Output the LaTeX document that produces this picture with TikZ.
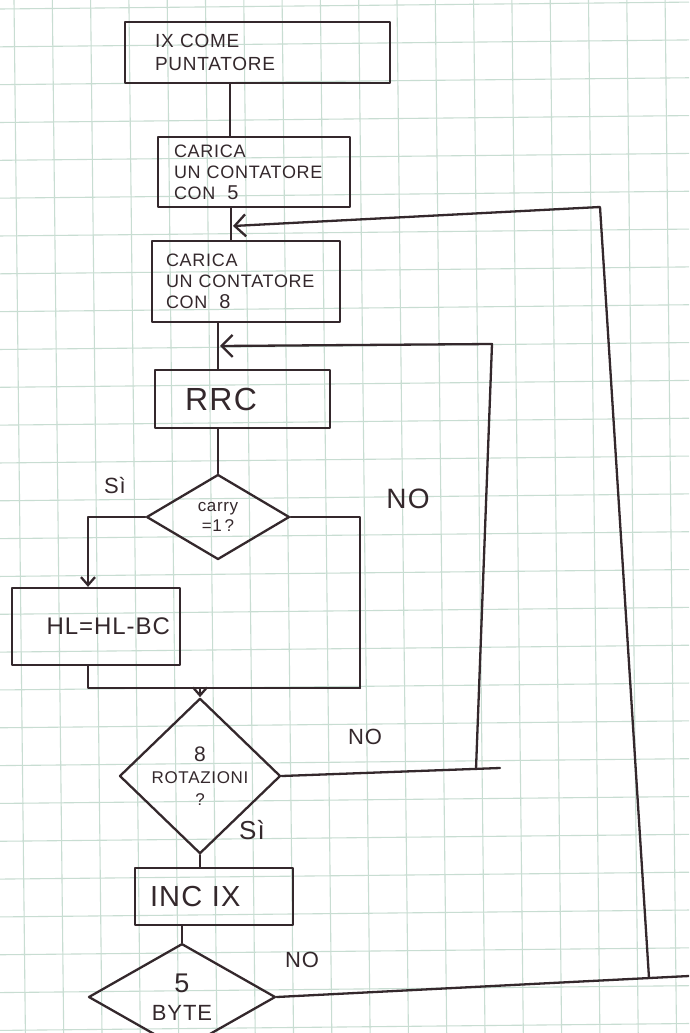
\documentclass[tikz,border=0pt]{standalone}
\usepackage{fontspec}
\setmainfont{Liberation Sans}
\newfontfamily\hand[LetterSpace=4]{Liberation Sans}
\usetikzlibrary{shapes.geometric,arrows.meta}
\definecolor{ink}{RGB}{52,40,44}
\definecolor{gridc}{RGB}{200,221,210}
\begin{document}
\begin{tikzpicture}[x=1pt,y=-1pt,
  inkline/.style={draw=ink,line width=2.3pt,line cap=round,line join=round},
  proc/.style={inkline,rectangle,inner ysep=0pt,text=ink},
  dec/.style={inkline,diamond,inner sep=0pt,text=ink,align=center},
  tag/.style={text=ink,inner sep=0pt},
  flow/.style={inkline},
  tip/.style={-{Straight Barb[length=11pt,width=22pt,line width=2.3pt]}},
  tipdown/.style={-{Straight Barb[length=8pt,width=14pt,line width=2.3pt]}}
]
\useasboundingbox (0,0) rectangle (689,1033);
\clip (0,0) rectangle (689,1033);
\fill[white] (0,0) rectangle (689,1033);
% squared paper
\foreach \k in {0,...,17} \draw[gridc,line width=1.1pt] ({14+38.3*\k},0) -- ({14+38.3*\k+11.4},1033);
\foreach \j in {0,...,27} \draw[gridc,line width=1.1pt] (0,{9+37.83*\j}) -- (689,{9+37.83*\j-6.9});

% process boxes
\node[proc,minimum width=265pt,minimum height=61pt,inner xsep=30pt,text width=205pt,align=left,
  font=\hand\fontsize{19}{23}\selectfont] (b1) at (257.5,52.5) {IX COME\\PUNTATORE};
\node[proc,minimum width=192pt,minimum height=70pt,inner xsep=16pt,text width=160pt,align=left,
  font=\hand\fontsize{18}{21}\selectfont] (b2) at (254,172) {CARICA\\UN CONTATORE\\CON \ {\fontsize{20}{21}\selectfont 5}};
\node[proc,minimum width=188pt,minimum height=81pt,inner xsep=14pt,text width=160pt,align=left,
  font=\hand\fontsize{18}{21}\selectfont] (b3) at (246,281.5) {CARICA\\UN CONTATORE\\CON \ {\fontsize{20}{21}\selectfont 8}};
\node[proc,minimum width=175pt,minimum height=58pt,inner xsep=30pt,text width=115pt,align=left,
  font=\hand\fontsize{32}{34}\selectfont] (rrc) at (242.5,399) {RRC};
\node[proc,minimum width=168pt,minimum height=77pt,inner xsep=10pt,text width=148pt,align=right,
  font=\hand\fontsize{24}{26}\selectfont] (hl) at (96,626.5) {HL=HL-BC};
\node[proc,minimum width=158pt,minimum height=57pt,inner xsep=15pt,text width=128pt,align=left,
  font=\hand\fontsize{29}{30}\selectfont] (inc) at (214,896.5) {INC IX};

% decisions
\node[dec,minimum width=143pt,minimum height=85pt,font=\hand\fontsize{17}{20}\selectfont] (d1) at (218,517) {carry\\=1\,?};
\node[dec,minimum width=161pt,minimum height=106pt,font=\hand\fontsize{17}{22}\selectfont] (d2) at (200,776) {{\fontsize{21}{22}\selectfont 8}\\ROTAZIONI\\?};
\node[dec,minimum width=187pt,minimum height=84pt,font=\hand\fontsize{22}{28}\selectfont] (d3) at (182,997) {{\fontsize{27}{28}\selectfont 5}\\BYTE};

% branch labels
\node[tag,font=\hand\fontsize{22}{22}\selectfont] (si1) at (115,486) {Sì};
\node[tag,font=\hand\fontsize{28}{28}\selectfont] (no1) at (408,499) {NO};
\node[tag,font=\hand\fontsize{22}{22}\selectfont] (no2) at (365,737) {NO};
\node[tag,font=\hand\fontsize{26}{26}\selectfont] (si2) at (252,830) {Sì};
\node[tag,font=\hand\fontsize{22}{22}\selectfont] (no3) at (302,960) {NO};

% helper coordinates
\coordinate (x1) at (230,0);
\coordinate (x2) at (231,0);
\coordinate (x3) at (218,0);
\coordinate (x4) at (88,0);
\coordinate (mr) at (360,688);
\coordinate (j1) at (233,226);
\coordinate (c1t) at (600,207);
\coordinate (c1b) at (649,978);
\coordinate (c1o) at (689,976);
\coordinate (j2) at (220,346);
\coordinate (c2t) at (492,344);
\coordinate (c2b) at (476,769);
\coordinate (c2o) at (500,768);

% main flow
\draw[flow] (b1.south -| x1) -- (b2.north -| x1);
\draw[flow] (b2.south -| x2) -- (b3.north -| x2);
\draw[flow] (b3.south -| x3) -- (rrc.north -| x3);
\draw[flow] (rrc.south -| d1.north) -- (d1.north);
\draw[flow,tipdown] (d1.west) -| (hl.north -| x4);
\draw[flow] (d1.east) -| (mr);
\draw[flow] (hl.south -| x4) |- (mr);
\draw[flow,tipdown] (d2.north |- mr) -- (d2.north);
\draw[flow] (d2.south) -- (inc.north -| d2.south);
\draw[flow] (inc.south -| d3.north) -- (d3.north);

% loops
\draw[flow] (d2.east) -- (c2o);
\draw[flow,tip] (c2b) -- (c2t) -- (j2);
\draw[flow] (d3.east) -- (c1o);
\draw[flow,tip] (c1b) -- (c1t) -- (j1);
\end{tikzpicture}
\end{document}
